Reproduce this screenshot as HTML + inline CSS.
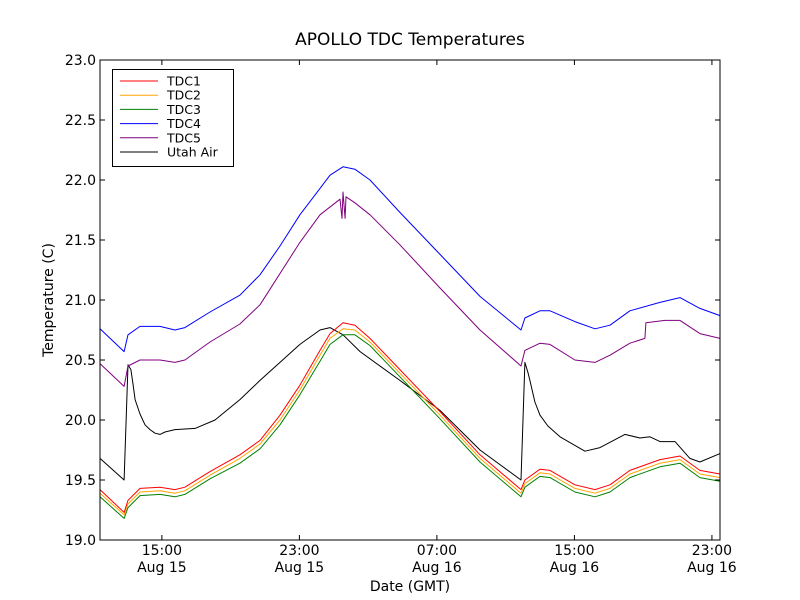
<!DOCTYPE html>
<html><head><meta charset="utf-8"><style>
body{margin:0;background:#fff;}
svg{display:block;font-family:"DejaVu Sans","Liberation Sans",sans-serif;}
</style></head><body>
<svg id="chart" width="800" height="600">
<rect x="0" y="0" width="800" height="600" fill="#fff"/>
<text x="410" y="45" font-size="17" text-anchor="middle">APOLLO TDC Temperatures</text>
<text x="410" y="591" font-size="14" text-anchor="middle">Date (GMT)</text>
<text transform="translate(53,300) rotate(-90)" font-size="14" text-anchor="middle">Temperature (C)</text>
<g id="plot"></g>
</svg>
<script>
const xMin = 11.4, xMax = 47.47, yMin = 19.0, yMax = 23.0;
const yTicks = [19.0, 19.5, 20.0, 20.5, 21.0, 21.5, 22.0, 22.5, 23.0];
const yTickLabels = ["19.0","19.5","20.0","20.5","21.0","21.5","22.0","22.5","23.0"];
const xTicks = [15, 23, 31, 39, 47];
const xTickTimes = ["15:00","23:00","07:00","15:00","23:00"];
const xTickDates = ["Aug 15","Aug 15","Aug 16","Aug 16","Aug 16"];
const seriesNames = ["TDC1","TDC2","TDC3","TDC4","TDC5","Utah Air"];
const seriesColors = ["#ff0000","#ffa500","#008000","#0000ff","#800080","#000000"];

const tHours = [11.40,12.80,13.03,13.73,14.89,15.76,16.34,17.80,19.54,20.71,21.87,23.03,24.20,24.78,25.54,26.23,27.11,28.85,31.18,33.51,35.89,36.12,37.00,37.58,39.03,40.20,41.07,42.23,43.98,45.14,46.30,47.47];
const tdc1 = [19.42,19.23,19.33,19.43,19.44,19.42,19.44,19.57,19.71,19.83,20.04,20.29,20.58,20.72,20.81,20.79,20.68,20.42,20.07,19.71,19.42,19.50,19.59,19.58,19.46,19.42,19.46,19.58,19.67,19.70,19.58,19.55];
const tdc2 = [19.39,19.21,19.30,19.40,19.41,19.39,19.41,19.54,19.68,19.80,20.00,20.25,20.54,20.68,20.76,20.75,20.65,20.39,20.04,19.68,19.39,19.47,19.56,19.55,19.43,19.39,19.43,19.55,19.64,19.67,19.55,19.52];
const tdc3 = [19.36,19.18,19.27,19.37,19.38,19.36,19.38,19.51,19.64,19.76,19.96,20.21,20.49,20.63,20.71,20.71,20.62,20.36,20.01,19.65,19.36,19.44,19.53,19.52,19.40,19.36,19.40,19.52,19.61,19.64,19.52,19.49];
const tdc4 = [20.76,20.57,20.71,20.78,20.78,20.75,20.77,20.90,21.04,21.21,21.45,21.71,21.93,22.04,22.11,22.09,22.00,21.73,21.38,21.03,20.75,20.85,20.91,20.91,20.82,20.76,20.79,20.91,20.98,21.02,20.93,20.87];

const tdc5Hours = [11.40,12.80,13.03,13.73,14.89,15.76,16.34,17.80,19.54,20.71,23.03,24.20,25.36,25.48,25.54,25.66,25.71,26.23,27.11,28.85,31.18,33.51,35.89,36.12,37.00,37.58,39.03,40.20,41.07,42.23,43.10,43.16,44.27,45.14,46.30,47.47];
const tdc5 = [20.47,20.28,20.45,20.50,20.50,20.48,20.50,20.65,20.80,20.96,21.48,21.71,21.84,21.68,21.90,21.68,21.86,21.81,21.71,21.46,21.10,20.75,20.45,20.58,20.64,20.63,20.50,20.48,20.54,20.64,20.68,20.81,20.83,20.83,20.72,20.68];

const airHours = [11.40,12.80,13.03,13.20,13.32,13.44,13.73,14.02,14.31,14.60,14.89,15.18,15.76,16.93,18.09,19.54,20.71,21.87,23.03,24.20,24.78,25.54,26.53,28.85,31.18,33.51,35.89,36.12,36.29,36.41,36.70,37.00,37.46,38.16,39.61,40.49,41.94,42.81,43.39,43.98,44.85,45.72,46.30,47.47];
const air = [19.68,19.50,20.46,20.42,20.30,20.17,20.05,19.96,19.92,19.89,19.88,19.90,19.92,19.93,20.00,20.17,20.33,20.48,20.63,20.75,20.77,20.71,20.57,20.33,20.08,19.75,19.50,20.48,20.40,20.33,20.15,20.04,19.95,19.86,19.74,19.77,19.88,19.85,19.86,19.82,19.82,19.68,19.65,19.72];

const L = 100, R = 720, T = 60, B = 540;
const sx = h => L + (h - xMin) / (xMax - xMin) * (R - L);
const sy = v => B - (v - yMin) / (yMax - yMin) * (B - T);
const NS = "http://www.w3.org/2000/svg";
const plot = document.getElementById("plot");
function mk(tag, attrs, parent) {
  const e = document.createElementNS(NS, tag);
  for (const k in attrs) e.setAttribute(k, attrs[k]);
  (parent || plot).appendChild(e);
  return e;
}

const seriesData = [[tHours, tdc1],[tHours, tdc2],[tHours, tdc3],[tHours, tdc4],[tdc5Hours, tdc5],[airHours, air]];
const drawOrder = [5, 4, 3, 2, 1, 0];
drawOrder.forEach(i => {
  const [xs, ys] = seriesData[i];
  const pts = xs.map((h, j) => sx(h).toFixed(1) + "," + sy(ys[j]).toFixed(1)).join(" ");
  const pl = mk("polyline", {points: pts, fill: "none", stroke: seriesColors[i], "stroke-width": 1, "stroke-linejoin": "round"});
  
  
});

const frame = mk("rect", {x: L, y: T, width: R - L, height: B - T, fill: "none", stroke: "#000", "stroke-width": 1});



yTicks.forEach((v, i) => {
  const y = sy(v);
  mk("line", {x1: L, x2: L + 5, y1: y, y2: y, stroke: "#000"});
  mk("line", {x1: R, x2: R - 5, y1: y, y2: y, stroke: "#000"});
  const t = mk("text", {x: L - 4, y: y + 5, "font-size": 14, "text-anchor": "end"});
  t.textContent = yTickLabels[i];
  
  
});
xTicks.forEach((h, i) => {
  const x = sx(h);
  mk("line", {x1: x, x2: x, y1: B, y2: B - 5, stroke: "#000"});
  mk("line", {x1: x, x2: x, y1: T, y2: T + 5, stroke: "#000"});
  const t1 = mk("text", {x: x, y: B + 15, "font-size": 14, "text-anchor": "middle"});
  t1.textContent = xTickTimes[i];
  
  
  const t2 = mk("text", {x: x, y: B + 32, "font-size": 14, "text-anchor": "middle"});
  t2.textContent = xTickDates[i];
  
  
});

const lg = mk("g", {});


mk("rect", {x: 112.5, y: 69.5, width: 121, height: 97, fill: "#fff", stroke: "#000"}, lg);
seriesNames.forEach((n, i) => {
  const y = 81 + i * 14.2;
  const g = mk("g", {}, lg);
  
  
  mk("line", {x1: 120, x2: 158, y1: y, y2: y, stroke: seriesColors[i]}, g);
  const t = mk("text", {x: 167, y: y + 4.5, "font-size": 12.5});
  t.textContent = n;
  g.appendChild(t);
});
</script>
</body></html>
